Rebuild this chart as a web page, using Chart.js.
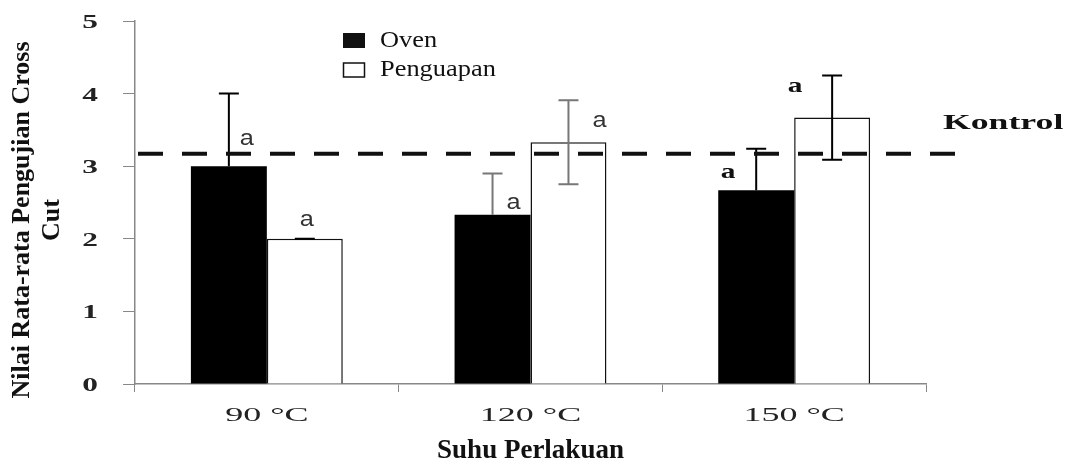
<!DOCTYPE html>
<html>
<head>
<meta charset="utf-8">
<script src="https://cdn.jsdelivr.net/npm/chart.js@4.4.1/dist/chart.umd.min.js"></script>
<style>
    body { margin: 0; background: #fff; }
    canvas { display: block; }
</style>
</head>
<body>
<canvas id="crossCut" width="1066" height="465"></canvas>
<script>
// Nilai rata-rata pengujian cross cut per suhu perlakuan
const categories = ['90 °C', '120 °C', '150 °C'];
const oven = [3.0, 2.33, 2.67];
const ovenErr = [1.0, 0.57, 0.57];
const penguapan = [2.0, 3.33, 3.67];
const penguapanErr = [0.0, 0.58, 0.58];
const notasiOven = ['a', 'a', 'a'];
const notasiPenguapan = ['a', 'a', 'a'];
const kontrol = 3.17;
const yTitle = ['Nilai Rata-rata Pengujian Cross', 'Cut'];

const serif = '"Liberation Serif", "Times New Roman", serif';
const sans = '"Liberation Sans", Arial, sans-serif';

// draw text squeezed/stretched horizontally by sx
function wideText(ctx, text, x, y, font, sx, align, color) {
    ctx.save();
    ctx.font = font;
    ctx.fillStyle = color || '#000';
    ctx.textAlign = align || 'left';
    ctx.textBaseline = 'middle';
    ctx.translate(x, y);
    ctx.scale(sx, 1);
    ctx.fillText(text, 0, 0);
    ctx.restore();
}

// error bars + notasi huruf above each bar
const errorBars = {
    id: 'errorBars',
    afterDatasetsDraw(chart) {
        const ctx = chart.ctx;
        const y = chart.scales.y;
        chart.data.datasets.forEach((ds, di) => {
            const meta = chart.getDatasetMeta(di);
            meta.data.forEach((bar, i) => {
                const v = ds.data[i], e = ds.errors[i];
                const top = y.getPixelForValue(v + e);
                const bottom = ds.upperOnly ? bar.y : y.getPixelForValue(v - e);
                ctx.save();
                ctx.strokeStyle = ds.errorColor[i];
                ctx.lineWidth = 2;
                ctx.beginPath();
                ctx.moveTo(bar.x, top);
                ctx.lineTo(bar.x, bottom);
                ctx.moveTo(bar.x - 10, top);
                ctx.lineTo(bar.x + 10, top);
                if (!ds.upperOnly) {
                    ctx.moveTo(bar.x - 10, bottom);
                    ctx.lineTo(bar.x + 10, bottom);
                }
                ctx.stroke();
                ctx.restore();

                const [dx, dy] = ds.notasiOffset[i];
                const st = ds.notasiStyle[i];
                wideText(ctx, ds.notasi[i], bar.x + dx, top + dy, st.font, st.sx, 'center', st.color);
            });
        });
    }
};

// garis kontrol, label sumbu dan legenda
const decorations = {
    id: 'decorations',
    afterDraw(chart) {
        const ctx = chart.ctx;
        const x = chart.scales.x, y = chart.scales.y;
        const area = chart.chartArea;

        const ky = y.getPixelForValue(kontrol);
        ctx.save();
        ctx.strokeStyle = '#111';
        ctx.lineWidth = 4;
        ctx.setLineDash([25, 19]);
        ctx.beginPath();
        ctx.moveTo(area.left + 3, ky);
        ctx.lineTo(973, ky);
        ctx.stroke();
        ctx.restore();
        wideText(ctx, 'Kontrol', 943, ky - 30, 'bold 21px ' + serif, 1.7, 'left', '#111');

        y.ticks.forEach(t => {
            wideText(ctx, String(t.value), 98, y.getPixelForValue(t.value) + 2, 'bold 19px ' + serif, 1.65, 'right', '#222');
        });
        categories.forEach((c, i) => {
            wideText(ctx, c, x.getPixelForValue(i), 416, '18px ' + serif, 2.0, 'center', '#222');
        });

        // judul sumbu Y, dua baris
        ctx.save();
        ctx.translate(0, 220);
        ctx.rotate(-Math.PI / 2);
        ctx.font = 'bold 26px ' + serif;
        ctx.fillStyle = '#111';
        ctx.textAlign = 'center';
        ctx.textBaseline = 'middle';
        yTitle.forEach((line, i) => ctx.fillText(line, 0, 22 + i * 30));
        ctx.restore();

        // legenda
        ctx.save();
        ctx.fillStyle = '#111';
        ctx.fillRect(343, 33, 22, 15);
        ctx.strokeStyle = '#111';
        ctx.lineWidth = 1.5;
        ctx.strokeRect(343.5, 63, 21, 14);
        ctx.restore();
        chart.data.datasets.forEach((ds, i) => {
            wideText(ctx, ds.label, 380, 41 + i * 29, '24px ' + serif, 1.1, 'left', '#111');
        });
    }
};

const sansA = { font: '22px ' + sans, sx: 1.15, color: '#333' };
const serifA = { font: 'bold 21px ' + serif, sx: 1.4, color: '#111' };

new Chart(document.getElementById('crossCut'), {
    type: 'bar',
    data: {
        labels: categories,
        datasets: [
            {
                label: 'Oven',
                data: oven,
                errors: ovenErr,
                upperOnly: true,
                errorColor: ['#000', '#777', '#000'],
                notasi: notasiOven,
                notasiOffset: [[18, 45], [21, 29], [-28, 24]],
                notasiStyle: [sansA, sansA, serifA],
                backgroundColor: '#000',
                borderWidth: 0
            },
            {
                label: 'Penguapan',
                data: penguapan,
                errors: penguapanErr,
                upperOnly: false,
                errorColor: ['#000', '#777', '#000'],
                notasi: notasiPenguapan,
                notasiOffset: [[2, -19], [31, 21], [-37, 11]],
                notasiStyle: [sansA, sansA, serifA],
                backgroundColor: '#fff',
                borderColor: '#111',
                borderWidth: 1.5
            }
        ]
    },
    options: {
        responsive: false,
        animation: false,
        layout: { padding: { top: 21, right: 140, left: 0, bottom: 0 } },
        categoryPercentage: 0.576,
        barPercentage: 1,
        plugins: {
            legend: { display: false },
            tooltip: { enabled: false }
        },
        scales: {
            x: {
                afterFit: s => { s.height = 81; },
                grid: { drawOnChartArea: false, tickLength: 8, color: '#888', offset: true },
                border: { color: '#888', width: 1.5 },
                ticks: { display: false },
                title: {
                    display: true,
                    text: 'Suhu Perlakuan',
                    color: '#111',
                    font: { family: serif, size: 27, weight: 'bold', lineHeight: 1 },
                    padding: { top: 0, bottom: 0 }
                }
            },
            y: {
                min: 0,
                max: 5,
                afterFit: s => { s.width = 135; },
                grid: { drawOnChartArea: false, tickLength: 12, color: '#888' },
                border: { color: '#888', width: 1.5 },
                ticks: { display: false, stepSize: 1 }
            }
        }
    },
    plugins: [errorBars, decorations]
});
</script>
</body>
</html>
